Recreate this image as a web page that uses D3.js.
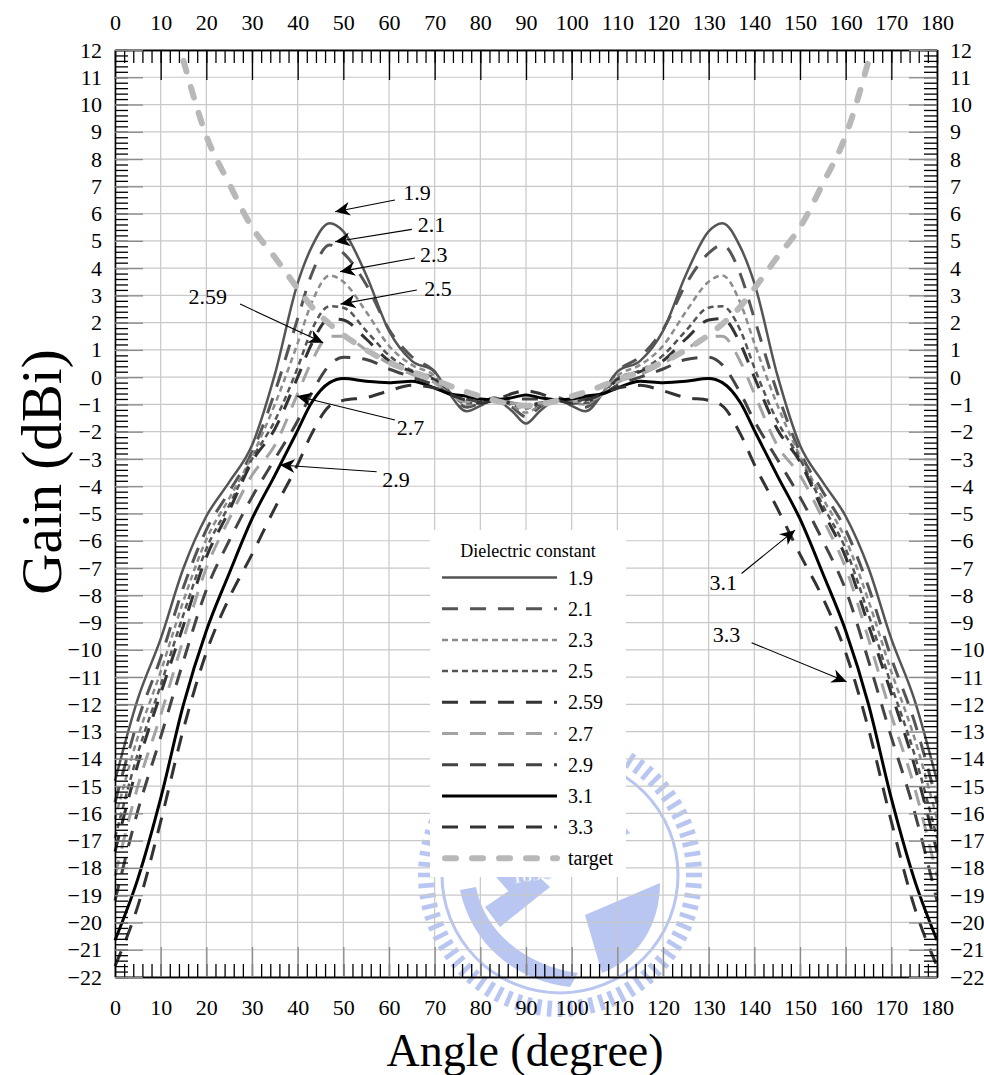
<!DOCTYPE html>
<html>
<head>
<meta charset="utf-8">
<script src="https://cdn.jsdelivr.net/npm/d3@7"></script>
<style>
  html, body { margin: 0; padding: 0; background: #fff; }
  svg { display: block; }
</style>
</head>
<body>
<svg id="chart" width="984" height="1075"></svg>
<script>
// angle samples (degree), shared by every series
var angles = [0, 5, 10, 15, 20, 25, 30, 35, 40, 43, 47, 50, 55, 60, 65, 70, 73, 77, 80, 83, 87, 90,
  93, 97, 100, 103, 107, 110, 115, 120, 125, 130, 133, 137, 140, 145, 150, 155, 160, 165, 170, 175, 180];

// gain (dBi), one list per dielectric constant
var gain19 = [-14.8, -11.8, -9.6, -7.0, -5.1, -3.85, -2.5, 0.1, 3.45, 4.75, 5.65, 5.35, 3.75, 1.7, 0.6, 0.2, -0.55, -1.25, -1.05, -0.82, -1.25, -1.7,
  -1.25, -0.82, -1.05, -1.25, -0.55, 0.2, 0.6, 1.7, 3.75, 5.35, 5.65, 4.75, 3.45, 0.1, -2.5, -3.85, -5.1, -7.0, -9.6, -11.8, -14.8];
var gain21 = [-15.6, -12.6, -10.3, -7.7, -5.6, -4.2, -2.75, -0.55, 2.15, 3.75, 4.85, 4.55, 3.4, 1.75, 0.75, 0.2, -0.5, -1.1, -0.95, -0.75, -1.1, -1.45,
  -1.1, -0.75, -0.95, -1.1, -0.5, 0.2, 0.75, 1.75, 3.4, 4.55, 4.85, 3.75, 2.15, -0.55, -2.75, -4.2, -5.6, -7.7, -10.3, -12.6, -15.6];
var gain23 = [-16.2, -13.2, -10.8, -8.2, -5.95, -4.45, -2.9, -1.0, 1.25, 2.7, 3.73, 3.5, 2.4, 1.15, 0.45, 0.05, -0.5, -1.0, -0.95, -0.8, -1.05, -1.3,
  -1.05, -0.8, -0.95, -1.0, -0.5, 0.05, 0.45, 1.15, 2.4, 3.5, 3.73, 2.7, 1.25, -1.0, -2.9, -4.45, -5.95, -8.2, -10.8, -13.2, -16.2];
var gain25 = [-16.9, -13.8, -11.3, -8.7, -6.3, -4.7, -3.0, -1.6, 0.35, 1.7, 2.6, 2.55, 1.7, 0.8, 0.25, -0.05, -0.55, -0.95, -0.95, -0.85, -1.0, -1.15,
  -1.0, -0.85, -0.95, -0.95, -0.55, -0.05, 0.25, 0.8, 1.7, 2.55, 2.6, 1.7, 0.35, -1.6, -3.0, -4.7, -6.3, -8.7, -11.3, -13.8, -16.9];
var gain259 = [-17.4, -14.2, -11.6, -9.1, -6.6, -4.9, -3.1, -1.9, 0.0, 1.2, 2.15, 2.1, 1.4, 0.6, 0.2, -0.1, -0.55, -0.9, -0.95, -0.85, -0.95, -1.05,
  -0.95, -0.85, -0.95, -0.9, -0.55, -0.1, 0.2, 0.6, 1.4, 2.1, 2.15, 1.2, 0.0, -1.9, -3.1, -4.9, -6.6, -9.1, -11.6, -14.2, -17.4];
var gain27 = [-18.3, -15.0, -12.4, -9.6, -7.0, -5.2, -3.6, -2.5, -0.6, 0.55, 1.5, 1.5, 1.0, 0.5, 0.1, -0.2, -0.6, -0.9, -0.9, -0.85, -0.95, -1.0,
  -0.95, -0.85, -0.9, -0.9, -0.6, -0.2, 0.1, 0.5, 1.0, 1.5, 1.5, 0.55, -0.6, -2.5, -3.6, -5.2, -7.0, -9.6, -12.4, -15.0, -18.3];
var gain29 = [-19.2, -15.9, -13.2, -10.4, -7.8, -6.0, -4.4, -3.0, -1.6, -0.6, 0.45, 0.73, 0.65, 0.3, 0.0, -0.3, -0.6, -0.8, -0.9, -0.85, -0.8, -0.8,
  -0.8, -0.85, -0.9, -0.8, -0.6, -0.3, 0.0, 0.3, 0.65, 0.73, 0.45, -0.6, -1.6, -3.0, -4.4, -6.0, -7.8, -10.4, -13.2, -15.9, -19.2];
var gain31 = [-20.65, -18.4, -15.45, -12.0, -9.3, -7.2, -5.2, -3.6, -1.95, -0.95, -0.2, -0.05, -0.15, -0.2, -0.15, -0.4, -0.6, -0.7, -0.8, -0.83, -0.75, -0.65,
  -0.75, -0.83, -0.8, -0.7, -0.6, -0.4, -0.15, -0.2, -0.15, -0.05, -0.2, -0.95, -1.95, -3.6, -5.2, -7.2, -9.3, -12.0, -15.45, -18.4, -20.65];
var gain33 = [-21.6, -19.4, -16.3, -12.9, -10.1, -8.1, -6.5, -4.8, -3.2, -2.1, -1.05, -0.85, -0.75, -0.5, -0.3, -0.4, -0.6, -0.85, -0.95, -0.85, -0.6, -0.5,
  -0.6, -0.85, -0.95, -0.85, -0.6, -0.4, -0.3, -0.5, -0.75, -0.85, -1.05, -2.1, -3.2, -4.8, -6.5, -8.1, -10.1, -12.9, -16.3, -19.4, -21.6];
var gainTarget = [null, null, null, 11.6, 8.85, 7.1, 5.5, 4.4, 3.25, 2.6, 1.95, 1.55, 1.0, 0.55, 0.2, -0.1, -0.3, -0.55, -0.7, -0.85, -1.0, -1.05,
  -1.0, -0.85, -0.7, -0.55, -0.3, -0.1, 0.2, 0.55, 1.0, 1.55, 1.95, 2.6, 3.25, 4.4, 5.5, 7.1, 8.85, 11.6, null, null, null];

var seriesLabels = ['1.9', '2.1', '2.3', '2.5', '2.59', '2.7', '2.9', '3.1', '3.3', 'target'];
var seriesGains = [gain19, gain21, gain23, gain25, gain259, gain27, gain29, gain31, gain33, gainTarget];

var xTickValues = [0, 10, 20, 30, 40, 50, 60, 70, 80, 90, 100, 110, 120, 130, 140, 150, 160, 170, 180];
var yTickValues = [12, 11, 10, 9, 8, 7, 6, 5, 4, 3, 2, 1, 0, -1, -2, -3, -4, -5, -6, -7, -8, -9, -10,
  -11, -12, -13, -14, -15, -16, -17, -18, -19, -20, -21, -22];

// callouts: label, arrow tip, arrow tail, text anchor point (all in angle / gain)
var calloutLabels = ['1.9', '2.1', '2.3', '2.5', '2.59', '2.7', '2.9', '3.1', '3.3'];
var calloutTip = [[48.2, 6.07], [48.2, 4.97], [49.3, 3.87], [49.4, 2.68], [45.6, 1.26], [39.8, -0.69], [36.1, -3.22], [148.9, -5.61], [160.2, -11.17]];
var calloutTail = [[61.3, 6.5], [65.0, 5.42], [65.7, 4.37], [66.1, 3.2], [27.4, 2.68], [61.3, -1.57], [57.3, -3.47], [137.2, -7.2], [139.4, -9.74]];
var calloutText = [[63.1, 6.75], [66.3, 5.58], [66.8, 4.48], [67.7, 3.23], [24.5, 2.94], [61.7, -1.87], [58.5, -3.77], [136.2, -7.55], [136.9, -9.46]];

(function () {
  'use strict';

  var SERIF = '"Liberation Serif", "Times New Roman", serif';
  var svg = d3.select('#chart').attr('font-family', SERIF);
  var x = d3.scaleLinear().domain([0, 180]).range([115, 937]);
  var y = d3.scaleLinear().domain([-22, 12]).range([977, 50]);

  var styles = [
    { color: '#555', width: 2.5, dash: null },
    { color: '#555', width: 3, dash: '16,12' },
    { color: '#8c8c8c', width: 2.5, dash: '6,4' },
    { color: '#555', width: 2.5, dash: '6,4' },
    { color: '#333', width: 3, dash: '16,12' },
    { color: '#a3a3a3', width: 3, dash: '16,12' },
    { color: '#444', width: 3, dash: '16,12' },
    { color: '#000', width: 3, dash: null },
    { color: '#333', width: 3, dash: '16,12' },
    { color: '#b8b8b8', width: 6, dash: '11,16', cap: 'round' }
  ];

  // watermark (faded school seal) sits under the grid
  var WM = '#a7b8ee';
  var wm = svg.append('g').attr('transform', 'translate(560,875)').attr('fill', WM).attr('opacity', 0.8);
  d3.range(0, 360, 4.5).forEach(function (deg) {
    wm.append('rect').attr('x', 126).attr('y', -2.3).attr('width', 16).attr('height', 4.6)
      .attr('transform', 'rotate(' + deg + ')');
  });
  wm.append('circle').attr('r', 118).attr('fill', 'none').attr('stroke', WM).attr('stroke-width', 3);
  wm.append('path').attr('d', 'M-100,15 C-88,70 -45,105 10,112 L18,98 C-30,92 -75,60 -84,12 Z');
  wm.append('path').attr('d', 'M-70,-5 L55,-60 L70,-42 L-50,18 Z');
  wm.append('path').attr('d', 'M25,40 L100,8 C100,50 78,84 42,98 Z');
  wm.append('path').attr('d', 'M-75,32 L-25,-2 L-10,12 L-60,52 Z');
  wm.append('text').attr('x', -48).attr('y', 2).attr('transform', 'rotate(-8)')
    .attr('font-size', 20).attr('font-weight', 'bold').attr('fill', '#fff').attr('stroke', WM)
    .attr('stroke-width', 0.6).text('1896');

  // grid
  var grid = svg.append('g').attr('stroke', '#c8c8c8').attr('stroke-width', 1.2);
  grid.selectAll('line.v').data(xTickValues).join('line').attr('class', 'v')
    .attr('x1', function (d) { return x(d); }).attr('x2', function (d) { return x(d); })
    .attr('y1', y(12)).attr('y2', y(-22));
  grid.selectAll('line.h').data(yTickValues).join('line').attr('class', 'h')
    .attr('x1', x(0)).attr('x2', x(180))
    .attr('y1', function (d) { return y(d); }).attr('y2', function (d) { return y(d); });

  // curves
  var line = d3.line()
    .defined(function (d) { return d[1] !== null; })
    .x(function (d) { return x(d[0]); })
    .y(function (d) { return y(d[1]); })
    .curve(d3.curveMonotoneX);

  var plot = svg.append('g');
  seriesGains.forEach(function (gains, i) {
    var st = styles[i];
    var pts = angles.map(function (a, k) { return [a, gains[k]]; });
    plot.append('path')
      .datum(pts)
      .attr('d', line)
      .attr('fill', 'none')
      .attr('stroke', st.color)
      .attr('stroke-width', st.width)
      .attr('stroke-dasharray', st.dash)
      .attr('stroke-linecap', st.cap || 'butt');
  });

  // legend box
  var lg = svg.append('g');
  lg.append('rect').attr('x', 430).attr('y', 530).attr('width', 196).attr('height', 347).attr('fill', '#fff');
  lg.append('text').attr('x', 528).attr('y', 557).attr('text-anchor', 'middle').attr('font-size', 18)
    .text('Dielectric constant');
  seriesLabels.forEach(function (lab, i) {
    var st = styles[i];
    var yy = 577.5 + i * 31.2;
    lg.append('line').attr('x1', st.cap ? 445 : 442).attr('x2', 557).attr('y1', yy).attr('y2', yy)
      .attr('stroke', st.color).attr('stroke-width', st.width)
      .attr('stroke-dasharray', st.dash).attr('stroke-linecap', st.cap || 'butt');
    lg.append('text').attr('x', 568).attr('y', yy + 7).attr('font-size', 20).text(lab);
  });

  // axes: frame, major + minor ticks, labels
  function styleAxis(g, color) {
    g.attr('font-family', SERIF).attr('font-size', 22);
    g.select('.domain').attr('stroke', '#000').attr('stroke-width', 1.3);
    g.selectAll('.tick line').attr('stroke', color).attr('stroke-width', 1.3);
    g.selectAll('.tick text').attr('fill', '#000');
  }

  var minorX = d3.range(0, 181, 2);
  var minorY = d3.range(-22, 12.01, 0.2);

  var topMinor = svg.append('g').attr('transform', 'translate(0,' + y(12) + ')')
    .call(d3.axisTop(x).tickValues(minorX).tickSize(-13).tickSizeOuter(0).tickFormat(''));
  styleAxis(topMinor, '#000');
  var topMajor = svg.append('g').attr('transform', 'translate(0,' + y(12) + ')')
    .call(d3.axisTop(x).tickValues(xTickValues).tickSize(-30).tickSizeOuter(0).tickPadding(20).tickFormat(d3.format('d')));
  styleAxis(topMajor, '#000');

  var botMinor = svg.append('g').attr('transform', 'translate(0,' + y(-22) + ')')
    .call(d3.axisBottom(x).tickValues(minorX).tickSize(-13).tickSizeOuter(0).tickFormat(''));
  styleAxis(botMinor, '#000');
  var botMajor = svg.append('g').attr('transform', 'translate(0,' + y(-22) + ')')
    .call(d3.axisBottom(x).tickValues(xTickValues).tickSize(-30).tickSizeOuter(0).tickPadding(22).tickFormat(d3.format('d')));
  styleAxis(botMajor, '#8a8a8a');

  var leftMinor = svg.append('g').attr('transform', 'translate(' + x(0) + ',0)')
    .call(d3.axisLeft(y).tickValues(minorY).tickSize(-13).tickSizeOuter(0).tickFormat(''));
  styleAxis(leftMinor, '#000');
  var leftMajor = svg.append('g').attr('transform', 'translate(' + x(0) + ',0)')
    .call(d3.axisLeft(y).tickValues(yTickValues).tickSize(-28).tickSizeOuter(0).tickPadding(13).tickFormat(d3.format('d')));
  styleAxis(leftMajor, '#8a8a8a');

  var rightMinor = svg.append('g').attr('transform', 'translate(' + x(180) + ',0)')
    .call(d3.axisRight(y).tickValues(minorY).tickSize(-13).tickSizeOuter(0).tickFormat(''));
  styleAxis(rightMinor, '#000');
  var rightMajor = svg.append('g').attr('transform', 'translate(' + x(180) + ',0)')
    .call(d3.axisRight(y).tickValues(yTickValues).tickSize(-28).tickSizeOuter(0).tickPadding(13).tickFormat(d3.format('d')));
  styleAxis(rightMajor, '#8a8a8a');

  // axis titles
  svg.append('text').attr('x', 525).attr('y', 1066).attr('text-anchor', 'middle')
    .attr('font-size', 46).text('Angle (degree)');
  svg.append('text').attr('transform', 'translate(61,472) rotate(-90)').attr('text-anchor', 'middle')
    .attr('font-size', 57).text('Gain (dBi)');

  // callout arrows
  svg.append('defs').append('marker')
    .attr('id', 'head').attr('markerUnits', 'userSpaceOnUse')
    .attr('markerWidth', 16).attr('markerHeight', 14)
    .attr('refX', 15).attr('refY', 7).attr('orient', 'auto')
    .append('path').attr('d', 'M0,0 L15,7 L0,14 L4.5,7 Z').attr('fill', '#000');

  var ann = svg.append('g');
  calloutLabels.forEach(function (lab, i) {
    ann.append('line')
      .attr('x1', x(calloutTail[i][0])).attr('y1', y(calloutTail[i][1]))
      .attr('x2', x(calloutTip[i][0])).attr('y2', y(calloutTip[i][1]))
      .attr('stroke', '#000').attr('stroke-width', 1.1)
      .attr('marker-end', 'url(#head)');
    var leftSide = calloutText[i][0] < calloutTip[i][0];
    ann.append('text')
      .attr('x', x(calloutText[i][0])).attr('y', y(calloutText[i][1]) + 7)
      .attr('text-anchor', leftSide ? 'end' : 'start')
      .attr('font-size', 22).text(lab);
  });
})();
</script>
</body>
</html>
